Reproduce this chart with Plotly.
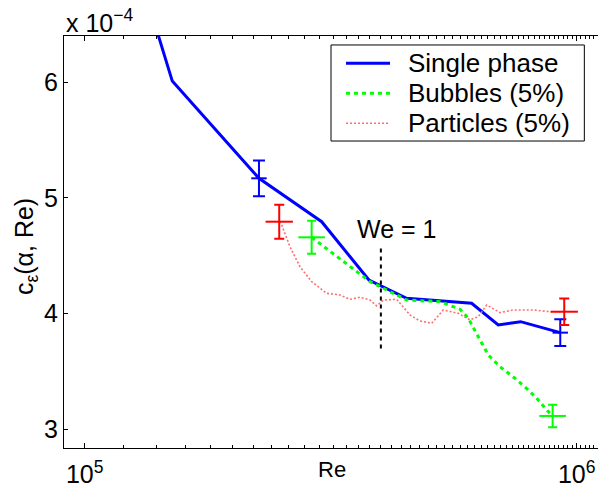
import plotly.graph_objects as go

# ---- data (c_eps in units of 1e-4) ----
single_re = [1.36e5, 1.507e5, 2.261e5, 3.032e5, 3.783e5, 4.513e5, 6.117e5, 6.928e5, 7.693e5, 9.262e5]
single_c = [6.63, 6.01, 5.17, 4.795, 4.291, 4.133, 4.090, 3.902, 3.931, 3.836]

bubbles_re = [2.893e5, 3.802e5, 4.513e5, 5.276e5, 5.792e5, 6.022e5, 6.31e5, 6.613e5,
              6.985e5, 7.49e5, 7.973e5, 8.356e5, 8.69e5, 8.937e5]
bubbles_c = [4.660, 4.277, 4.118, 4.104, 4.038, 3.960, 3.801, 3.643,
             3.542, 3.442, 3.341, 3.254, 3.168, 3.116]

particles_re = [2.486e5, 2.514e5, 2.614e5, 2.739e5, 2.893e5, 3.104e5, 3.303e5, 3.461e5,
                3.627e5, 3.802e5, 3.923e5, 4.046e5, 4.307e5, 4.584e5, 4.803e5, 5.074e5,
                5.357e5, 5.745e5, 6.068e5, 6.31e5, 6.564e5, 6.985e5, 7.43e5, 8.163e5,
                8.826e5, 9.436e5]
particles_c = [4.795, 4.767, 4.579, 4.406, 4.277, 4.176, 4.162, 4.124,
               4.142, 4.118, 4.067, 4.118, 4.124, 3.989, 3.937, 3.917,
               4.032, 4.003, 3.946, 3.974, 4.075, 4.009, 4.032, 4.032,
               4.017, 4.017]

single_err_re = [2.261e5, 9.262e5]
single_err_c = [5.17, 3.836]
single_err = [0.155, 0.116]

bubbles_err_re = [2.893e5, 8.937e5]
bubbles_err_c = [4.660, 3.116]
bubbles_err = [0.143, 0.097]

particles_err_re = [2.486e5, 9.436e5]
particles_err_c = [4.795, 4.017]
particles_err = [0.147, 0.115]

we_re = [4.0e5, 4.0e5]
we_c = [3.70, 4.58]
we_label = "We = 1"
we_label_pos = (5.6348, 4.732)  # log10(Re), c

series_names = ["Single phase", "Bubbles (5%)", "Particles (5%)"]

y_ticks = [3, 4, 5, 6]
x_ticks = [1e5, 1e6]
x_ticktext = ["10<sup>5</sup>", "10<sup>6</sup>"]

FONT = "Liberation Sans, Arial, sans-serif"
BLUE = "rgb(0,0,255)"
GREEN = "rgb(0,255,0)"
RED = "rgb(255,0,0)"
PINK = "rgb(255,110,110)"

line_styles = [dict(color=BLUE, width=3),
               dict(color=GREEN, width=3, dash="4px,4px"),
               dict(color=PINK, width=1.6, dash="2px,2px")]

fig = go.Figure()

fig.add_trace(go.Scatter(x=single_re, y=single_c, mode="lines", name=series_names[0],
                         line=line_styles[0]))
fig.add_trace(go.Scatter(x=bubbles_re, y=bubbles_c, mode="lines", name=series_names[1],
                         line=line_styles[1]))
fig.add_trace(go.Scatter(x=particles_re, y=particles_c, mode="lines", name=series_names[2],
                         line=line_styles[2]))

fig.add_trace(go.Scatter(x=we_re, y=we_c, mode="lines", showlegend=False,
                         line=dict(color="black", width=2, dash="4px,4px")))

def err_trace(xs, ys, errs, color, size, capw):
    return go.Scatter(x=xs, y=ys, mode="markers", showlegend=False,
                      marker=dict(symbol="line-ew", size=size, color=color,
                                  line=dict(color=color, width=2)),
                      error_y=dict(type="data", array=errs, visible=True,
                                   color=color, thickness=2, width=capw))

fig.add_trace(err_trace(single_err_re, single_err_c, single_err, BLUE, 11, 6))
fig.add_trace(err_trace(bubbles_err_re, bubbles_err_c, bubbles_err, GREEN, 19, 4.5))
fig.add_trace(err_trace(particles_err_re, particles_err_c, particles_err, RED, 19.5, 5))

fig.add_annotation(x=we_label_pos[0], y=we_label_pos[1], text=we_label, showarrow=False,
                   xanchor="center", yanchor="middle",
                   font=dict(family=FONT, size=25, color="black"))

fig.add_annotation(xref="paper", yref="paper", x=-0.0712, y=0.49, text="c<sub>ε</sub>(α, Re)",
                   textangle=-90, showarrow=False, xanchor="center", yanchor="middle",
                   font=dict(family=FONT, size=25, color="black"))
fig.add_annotation(xref="paper", yref="paper", x=0.5019, y=-0.051, text="Re",
                   showarrow=False, xanchor="center", yanchor="middle",
                   font=dict(family=FONT, size=22, color="black"))
fig.add_annotation(xref="paper", yref="paper", x=0.0, y=0.9927, text="x 10<sup>−4</sup>",
                   showarrow=False, xanchor="left", yanchor="bottom",
                   font=dict(family=FONT, size=25, color="black"))

# ---- legend drawn by hand (box, samples, labels) ----
fig.add_shape(type="rect", xref="paper", yref="paper", x0=0.5, x1=0.9744, y0=0.7451, y1=0.9782,
              line=dict(color="black", width=1), fillcolor="white", layer="above")
legend_rows = [0.9337, 0.8609, 0.7881]
for name, style, yr in zip(series_names, line_styles, legend_rows):
    fig.add_shape(type="line", xref="paper", yref="paper", x0=0.5281, x1=0.6105, y0=yr, y1=yr,
                  line=style, layer="above")
    fig.add_annotation(xref="paper", yref="paper", x=0.6404, y=yr, text=name, showarrow=False,
                       xanchor="left", yanchor="middle",
                       font=dict(family=FONT, size=26, color="black"))

fig.update_layout(
    width=598, height=490,
    margin=dict(l=64, r=0, t=36, b=42),
    paper_bgcolor="white", plot_bgcolor="white",
    font=dict(family=FONT, size=25, color="black"),
    showlegend=False,
    xaxis=dict(type="log", range=[4.958, 6.0434], showgrid=False, zeroline=False,
               showline=True, linecolor="black", linewidth=1, mirror="allticks",
               ticks="inside", ticklen=5, tickcolor="black", automargin=False,
               tickvals=x_ticks, ticktext=x_ticktext, ticklabelstandoff=4,
               minor=dict(ticks="inside", ticklen=3, tickcolor="black", showgrid=False)),
    yaxis=dict(range=[2.839, 6.400], showgrid=False, zeroline=False, automargin=False,
               showline=True, linecolor="black", linewidth=1,
               ticks="inside", ticklen=4, tickcolor="black",
               tickvals=y_ticks, ticktext=[str(v) for v in y_ticks]),
)

fig.write_html("out.html")
